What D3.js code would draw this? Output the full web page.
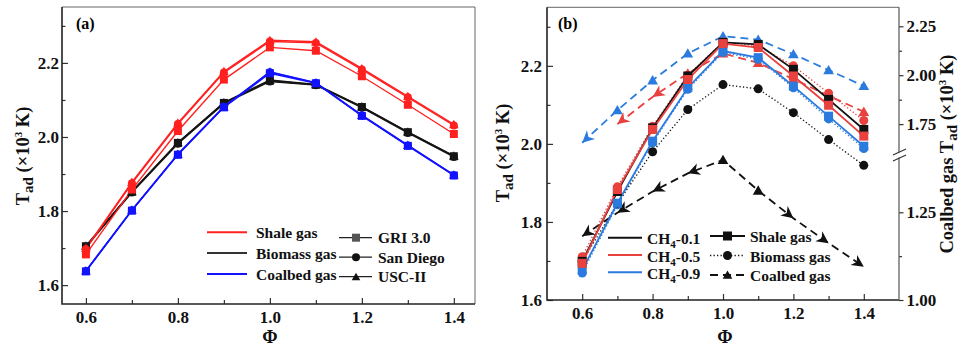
<!DOCTYPE html>
<html lang="en">
<head>
<meta charset="UTF-8">
<title>Tad vs equivalence ratio</title>
<script src="https://cdn.jsdelivr.net/npm/d3@7"></script>
<style>
body { margin: 0; background: #fff; }
svg { display: block; font-family: "Liberation Serif", "Times New Roman", serif; font-weight: bold; }
.axis text { font-family: "Liberation Serif", serif; font-size: 17px; font-weight: bold; fill: #111; }
.legend text { font-size: 15.5px; fill: #111; }
.title { font-size: 18.5px; fill: #111; }
</style>
</head>
<body>
<svg id="chart" width="960" height="347"></svg>
<script>

// equivalence ratio
const phi = [0.6, 0.7, 0.8, 0.9, 1.0, 1.1, 1.2, 1.3, 1.4];

// (a) Tad (x10^3 K) per mechanism
const shaleGRI       = [1.683, 1.858, 2.016, 2.155, 2.242, 2.233, 2.164, 2.087, 2.008];
const shaleSanDiego  = [1.697, 1.875, 2.035, 2.174, 2.258, 2.254, 2.182, 2.107, 2.031];
const shaleUSC       = [1.700, 1.878, 2.038, 2.177, 2.261, 2.257, 2.185, 2.110, 2.034];
const biomassGRI     = [1.705, 1.852, 1.984, 2.092, 2.152, 2.141, 2.081, 2.013, 1.948];
const biomassSanDiego= [1.703, 1.850, 1.982, 2.090, 2.150, 2.140, 2.079, 2.011, 1.946];
const biomassUSC     = [1.706, 1.853, 1.985, 2.093, 2.154, 2.142, 2.082, 2.014, 1.949];
const coalbedGRI     = [1.637, 1.801, 1.952, 2.080, 2.172, 2.145, 2.057, 1.976, 1.896];
const coalbedSanDiego= [1.638, 1.802, 1.953, 2.081, 2.175, 2.146, 2.058, 1.977, 1.897];
const coalbedUSC     = [1.639, 1.803, 1.954, 2.082, 2.176, 2.147, 2.059, 1.978, 1.898];

// (b) Tad (x10^3 K) per CH4 fraction; coalbed gas is read on the right axis
const shaleCH4_01    = [1.699, 1.878, 2.041, 2.174, 2.260, 2.255, 2.191, 2.114, 2.037];
const shaleCH4_05    = [1.694, 1.883, 2.037, 2.165, 2.257, 2.247, 2.174, 2.099, 2.020];
const shaleCH4_09    = [1.677, 1.848, 2.007, 2.144, 2.238, 2.221, 2.148, 2.071, 1.994];
const biomassCH4_01  = [1.699, 1.847, 1.980, 2.088, 2.152, 2.141, 2.080, 2.011, 1.945];
const biomassCH4_05  = [1.711, 1.890, 2.045, 2.176, 2.261, 2.251, 2.200, 2.130, 2.060];
const biomassCH4_09  = [1.669, 1.844, 2.003, 2.140, 2.234, 2.217, 2.144, 2.064, 1.988];
const coalbedCH4_01  = [1.182, 1.249, 1.309, 1.361, 1.399, 1.312, 1.233, 1.162, 1.095];
const coalbedCH4_05  = [null,  1.750, 1.889, 2.009, 2.111, 2.063, 1.980, 1.895, 1.813];
const coalbedCH4_09  = [1.655, 1.821, 1.974, 2.111, 2.199, 2.182, 2.107, 2.026, 1.945];

// ticks
const xMajor = [0.6, 0.8, 1.0, 1.2, 1.4];
const xMinor = [0.7, 0.9, 1.1, 1.3];
const yMajor = [1.6, 1.8, 2.0, 2.2];
const yMinor = [1.7, 1.9, 2.1, 2.3];
const rLowMajor = [1.00, 1.25];
const rLowMinor = [1.125];
const rHighMajor = [1.75, 2.00, 2.25];
const rHighMinor = [1.875, 2.125];

// legend labels
const gasNames = ["Shale gas", "Biomass gas", "Coalbed gas"];
const mechNames = ["GRI 3.0", "San Diego", "USC-II"];
const ch4Names = ["0.1", "0.5", "0.9"];

const svg = d3.select("#chart");

function pairs(vals) { return phi.map((p, i) => [p, vals[i]]); }

function marker(g, shape, x, y, s, color) {
	if (shape === "square") {
		g.append("rect").attr("x", x - s / 2).attr("y", y - s / 2)
			.attr("width", s).attr("height", s).attr("fill", color);
	} else if (shape === "circle") {
		g.append("circle").attr("cx", x).attr("cy", y).attr("r", s / 2).attr("fill", color);
	} else {
		g.append("path").attr("d", d3.symbol(d3.symbolTriangle, s * s * 0.5)())
			.attr("transform", `translate(${x},${y + 1})`).attr("fill", color);
	}
}

function arrowHead(g, x0, y0, x1, y1, color) {
	const ang = Math.atan2(y1 - y0, x1 - x0) * 180 / Math.PI;
	g.append("path").attr("d", "M0,0L-12,-6L-8.5,0L-12,6Z")
		.attr("transform", `translate(${x1},${y1}) rotate(${ang})`).attr("fill", color);
}

function styleAxis(g) {
	g.attr("font-family", null).attr("font-size", null);
	g.select(".domain").remove();
	g.selectAll("line").attr("stroke", "#333").attr("stroke-width", 1.2);
}

function frameAxes(x, y, frame, opts) {
	const g = svg.append("g");
	g.append("g").attr("class", "axis").attr("transform", `translate(0,${frame.bottom})`)
		.call(d3.axisBottom(x).tickValues(xMajor).tickFormat(d3.format(".1f")).tickSizeInner(-6).tickSizeOuter(0).tickPadding(7))
		.call(styleAxis);
	g.append("g").attr("class", "axis").attr("transform", `translate(0,${frame.bottom})`)
		.call(d3.axisBottom(x).tickValues(xMinor).tickFormat("").tickSizeInner(-4).tickSizeOuter(0))
		.call(styleAxis);
	g.append("g").attr("class", "axis").attr("transform", `translate(${frame.left},0)`)
		.call(d3.axisLeft(y).tickValues(yMajor).tickFormat(d3.format(".1f")).tickSizeInner(-6).tickSizeOuter(0).tickPadding(opts.pad))
		.call(styleAxis);
	g.append("g").attr("class", "axis").attr("transform", `translate(${frame.left},0)`)
		.call(d3.axisLeft(y).tickValues(yMinor.filter(v => y(v) > frame.top)).tickFormat("").tickSizeInner(-3.5).tickSizeOuter(0))
		.call(styleAxis);
	// frame
	g.append("path").attr("fill", "none").attr("stroke", "#666").attr("stroke-width", 1)
		.attr("d", `M${frame.left},${frame.top}H${frame.right}` + (opts.rightLine ? `V${frame.bottom}` : ""));
	g.append("path").attr("fill", "none").attr("stroke", "#222").attr("stroke-width", 1.6)
		.attr("d", `M${frame.left},${frame.top}V${frame.bottom}H${frame.right}`);
}

function yTitle(x, y, rot, pre) {
	const t = svg.append("text").attr("class", "title")
		.attr("transform", `translate(${x},${y}) rotate(${rot})`).attr("text-anchor", "middle");
	t.append("tspan").text(pre + "T");
	t.append("tspan").attr("dy", 4).attr("font-size", "15px").text("ad");
	t.append("tspan").attr("dy", -4).text(" (\u00d710");
	t.append("tspan").attr("dy", -7).attr("font-size", "11px").text("3");
	t.append("tspan").attr("dy", 7).text(" K)");
}

// ---------------- panel (a)
const frameA = {left: 62, right: 475, top: 7, bottom: 304};
const xA = d3.scaleLinear().domain([0.548, 1.446]).range([frameA.left, frameA.right]);
const yA = d3.scaleLinear().domain([1.549, 2.351]).range([frameA.bottom, frameA.top]);
frameAxes(xA, yA, frameA, {pad: 3, rightLine: true});

const colA = {shale: "#ff2020", biomass: "#151515", coalbed: "#1212ff"};
const shapes = ["square", "circle", "triangle"];
const seriesA = [
	{color: colA.biomass, sets: [biomassGRI, biomassSanDiego, biomassUSC]},
	{color: colA.coalbed, sets: [coalbedGRI, coalbedSanDiego, coalbedUSC]},
	{color: colA.shale, sets: [shaleGRI, shaleSanDiego, shaleUSC]}
];
const lineA = d3.line().x(d => xA(d[0])).y(d => yA(d[1]));
const plotA = svg.append("g");
seriesA.forEach(s => {
	s.sets.forEach(vals => {
		plotA.append("path").attr("d", lineA(pairs(vals))).attr("fill", "none")
			.attr("stroke", s.color).attr("stroke-width", 1.4);
	});
});
seriesA.forEach(s => {
	s.sets.forEach((vals, k) => {
		pairs(vals).forEach(d => marker(plotA, shapes[k], xA(d[0]), yA(d[1]), k === 2 ? 9 : 8, s.color));
	});
});

svg.append("text").attr("x", 76).attr("y", 29).attr("font-size", "16px").text("(a)");
svg.append("text").attr("class", "title").attr("x", 270).attr("y", 343).attr("font-size", "18px")
	.attr("text-anchor", "middle").text("\u03a6");
yTitle(28.5, 156, -90, "");

const legA = svg.append("g").attr("class", "legend");
const legAColors = [colA.shale, "#333", colA.coalbed];
gasNames.forEach((n, i) => {
	const ly = 232.3 + i * 20.8;
	legA.append("line").attr("x1", 207).attr("x2", 247).attr("y1", ly).attr("y2", ly)
		.attr("stroke", legAColors[i]).attr("stroke-width", 2);
	legA.append("text").attr("x", 256).attr("y", ly + 6).text(n);
});
mechNames.forEach((n, i) => {
	const ly = 237.7 + i * 19.5;
	const c = i === 0 ? "#555" : "#111";
	legA.append("line").attr("x1", 339).attr("x2", 372).attr("y1", ly).attr("y2", ly)
		.attr("stroke", "#222").attr("stroke-width", 1.3);
	marker(legA, shapes[i], 356, ly, 8, c);
	legA.append("text").attr("x", 378).attr("y", ly + 5.5).text(n);
});

// ---------------- panel (b)
const frameB = {left: 547, right: 899, top: 7.3, bottom: 300};
const xB = d3.scaleLinear().domain([0.5, 1.5]).range([frameB.left, frameB.right]);
const yB = d3.scaleLinear().domain([1.6, 2.35]).range([frameB.bottom, frameB.top]);
const yRLow = d3.scaleLinear().domain([1.0, 1.4076]).range([frameB.bottom, 157]);
const yRHigh = d3.scaleLinear().domain([1.582, 2.347]).range([157, frameB.top]);
const yR = v => v < 1.5 ? yRLow(v) : yRHigh(v);
frameAxes(xB, yB, frameB, {pad: 5, rightLine: false});

// right broken axis
const rAx = svg.append("g");
[[yRLow, rLowMajor, rLowMinor], [yRHigh, rHighMajor, rHighMinor]].forEach(([sc, maj, mn]) => {
	rAx.append("g").attr("class", "axis").attr("transform", `translate(${frameB.right},0)`)
		.call(d3.axisRight(sc).tickValues(maj).tickFormat(d3.format(".2f")).tickSizeInner(4.5).tickSizeOuter(0).tickPadding(3))
		.call(styleAxis);
	rAx.append("g").attr("class", "axis").attr("transform", `translate(${frameB.right},0)`)
		.call(d3.axisRight(sc).tickValues(mn).tickFormat("").tickSizeInner(3).tickSizeOuter(0))
		.call(styleAxis);
});
rAx.append("path").attr("fill", "none").attr("stroke", "#555").attr("stroke-width", 1.2)
	.attr("d", `M${frameB.right},${frameB.bottom}V157.5M${frameB.right},152.5V${frameB.top}`);
rAx.append("path").attr("fill", "none").attr("stroke", "#333").attr("stroke-width", 1.2)
	.attr("d", "M893,155L906,149M893,161L906,155");

const colB = ["#111111", "#e8413e", "#2b7bde"];
const arrowsAt = [[0, 1, 2, 3, 6, 7, 8], [1, 2], [0]];
const groupsB = [
	{sets: [coalbedCH4_01, coalbedCH4_05, coalbedCH4_09], shape: "triangle", dash: "8,5", width: 1.8, right: true},
	{sets: [biomassCH4_01, biomassCH4_05, biomassCH4_09], shape: "circle", dash: "1.3,2.2", width: 1.3, right: false},
	{sets: [shaleCH4_01, shaleCH4_05, shaleCH4_09], shape: "square", dash: null, width: 1.8, right: false}
];
const plotB = svg.append("g");
groupsB.forEach(gr => {
	const ys = gr.right ? yR : yB;
	const line = d3.line().defined(d => d[1] != null).x(d => xB(d[0])).y(d => ys(d[1]));
	[2, 0, 1].forEach(k => {
		plotB.append("path").attr("d", line(pairs(gr.sets[k]))).attr("fill", "none")
			.attr("stroke", colB[k]).attr("stroke-width", gr.width)
			.attr("stroke-dasharray", gr.dash);
	});
});
groupsB.forEach(gr => {
	const ys = gr.right ? yR : yB;
	[2, 0, 1].forEach(k => {
		const pts = pairs(gr.sets[k]);
		pts.forEach((d, i) => {
			if (d[1] == null) return;
			const px = xB(d[0]), py = ys(d[1]);
			if (gr.right && arrowsAt[k].includes(i)) {
				const peak = gr.sets[k].indexOf(d3.max(gr.sets[k]));
				const nb = pts[i < peak ? i + 1 : i - 1];
				arrowHead(plotB, xB(nb[0]), ys(nb[1]), px, py, colB[k]);
			} else {
				marker(plotB, gr.shape, px, py, gr.shape === "triangle" ? 10 : 9, colB[k]);
			}
		});
	});
});

svg.append("text").attr("x", 558).attr("y", 29).attr("font-size", "16px").text("(b)");
svg.append("text").attr("class", "title").attr("x", 725).attr("y", 343).attr("font-size", "18px")
	.attr("text-anchor", "middle").text("\u03a6");
yTitle(509, 153, -90, "");
yTitle(952.5, 154, -90, "Coalbed gas ");

const legB = svg.append("g").attr("class", "legend");
ch4Names.forEach((n, i) => {
	const ly = 237.7 + i * 17.3;
	legB.append("line").attr("x1", 608).attr("x2", 642).attr("y1", ly).attr("y2", ly)
		.attr("stroke", colB[i]).attr("stroke-width", 2);
	const t = legB.append("text").attr("x", 647).attr("y", ly + 6.5);
	t.append("tspan").text("CH");
	t.append("tspan").attr("dy", 4).attr("font-size", "11px").text("4");
	t.append("tspan").attr("dy", -4).text("-" + n);
});
gasNames.forEach((n, i) => {
	const ly = 236 + i * 19.5;
	const gr = groupsB[2 - i];
	legB.append("line").attr("x1", 710).attr("x2", 745).attr("y1", ly).attr("y2", ly)
		.attr("stroke", "#111").attr("stroke-width", gr.width)
		.attr("stroke-dasharray", gr.dash);
	marker(legB, gr.shape, 727.5, ly, 9, "#111");
	legB.append("text").attr("x", 750).attr("y", ly + 6).text(n);
});

</script>
</body>
</html>
